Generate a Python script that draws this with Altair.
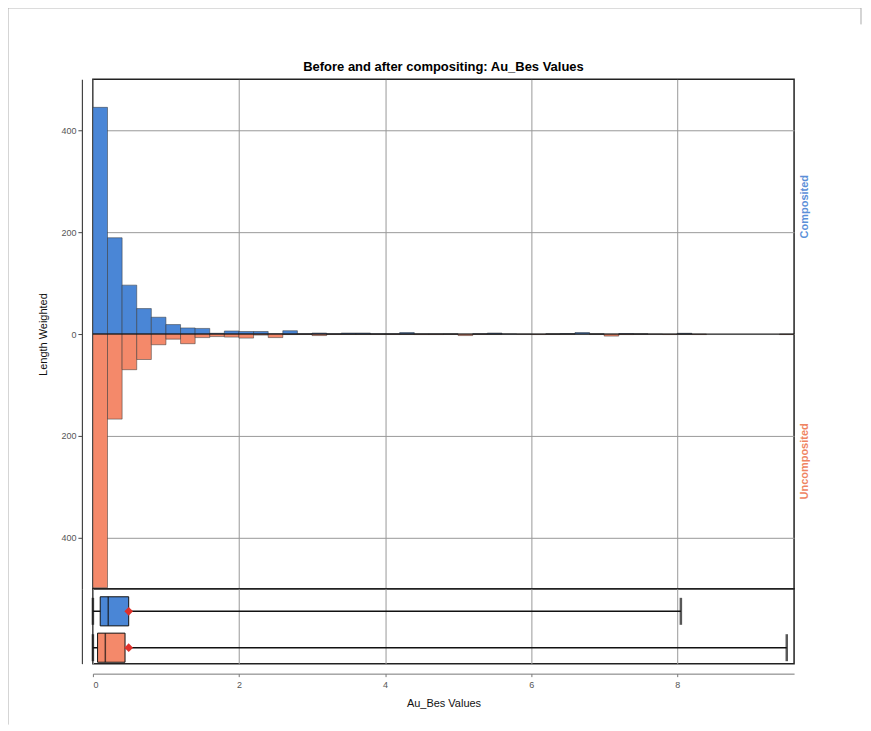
import altair as alt
import pandas as pd

# ---------------- data ----------------
bin_step = 0.2
n_bins = 48
composited = [445, 189, 96, 50, 33, 18.6, 12, 11, 1.5, 6, 5, 5, 0.5, 6.5, 0.5, 2,
              0.5, 2, 2, 0.5, 0.5, 3, 0.3, 0.3, 0.3, 0, 0.5, 2, 0.3, 0, 0, 0.3,
              1, 3, 0.3, 0, 1, 0.3, 0, 0, 1.5, 0, 0, 0, 0, 0, 0, 0]
uncomposited = [498, 167, 70, 50, 21, 10, 19, 7, 5, 6, 8, 2, 7, 1, 0.5, 3,
                0.5, 0.5, 0.5, 0.5, 0.5, 0.5, 1, 1, 0.5, 3, 0.5, 0.3, 0, 0.3, 1, 0.3,
                0.3, 0, 0.3, 4, 1, 0.3, 0.3, 1, 0.3, 1, 0, 0, 0, 0, 0, 1]

series_names = ["Composited", "Uncomposited"]
series_colors = ["#4a86d6", "#f4896a"]
label_colors = ["#5b8fd8", "#ef8462"]

box_min = [0.0, 0.0]
box_q1 = [0.10, 0.064]
box_median = [0.21, 0.17]
box_q3 = [0.49, 0.44]
box_max = [8.05, 9.5]
box_mean = [0.49, 0.49]

x_ticks = [0, 2, 4, 6, 8]
y_ticks = [-400, -200, 0, 200, 400]
title_text = "Before and after compositing: Au_Bes Values"

# ---------------- tables ----------------
rows = []
for i in range(n_bins):
    s = round(i * bin_step, 2)
    e = round((i + 1) * bin_step, 2)
    if composited[i] > 0:
        rows.append({"start": s, "end": e, "value": composited[i], "series": "Composited"})
    if uncomposited[i] > 0:
        rows.append({"start": s, "end": e, "value": -uncomposited[i], "series": "Uncomposited"})
hist_df = pd.DataFrame(rows)

box_df = pd.DataFrame({
    "series": series_names, "min": box_min, "q1": box_q1, "median": box_median,
    "q3": box_q3, "max": box_max, "mean": box_mean,
})

W, H_HIST, H_BOX = 702, 510, 75
FONT = "Liberation Sans"

xscale = alt.Scale(domain=[0, 9.6], nice=False, zero=False)
yscale = alt.Scale(domain=[-500, 500], nice=False)
cscale = alt.Scale(domain=series_names, range=series_colors)

hist_x_axis = alt.Axis(values=x_ticks, labels=False, ticks=False, domain=False, title=None,
                       grid=True, gridColor="#999999", gridWidth=1)
hist_y_axis = alt.Axis(values=y_ticks, labelExpr="format(abs(datum.value), 'd')", offset=11,
                       grid=True, gridColor="#999999", gridWidth=1, tickSize=4, tickColor="#444",
                       domainColor="#444", domainWidth=1.2, labelFontSize=9, labelColor="#555",
                       labelFont=FONT, title="Length Weighted", titleFont=FONT, titleFontSize=11,
                       titleFontWeight="normal", titleColor="#111", titlePadding=12)

bars = alt.Chart(hist_df).mark_bar(stroke="#333333", strokeWidth=0.6, strokeOpacity=0.85, clip=True).encode(
    x=alt.X("start:Q", scale=xscale, axis=hist_x_axis),
    x2="end:Q",
    y=alt.Y("value:Q", scale=yscale, axis=hist_y_axis),
    y2=alt.datum(0),
    color=alt.Color("series:N", scale=cscale, legend=None),
)

zero_rule = alt.Chart(pd.DataFrame({"v": [0]})).mark_rule(color="#111", strokeWidth=1).encode(
    y=alt.Y("v:Q", scale=yscale)
)

lab_comp = alt.Chart(pd.DataFrame({"t": ["Composited"]})).mark_text(
    angle=270, align="center", baseline="middle", font=FONT, fontSize=11,
    fontWeight="bold", color=label_colors[0]
).encode(x=alt.value(W + 11), y=alt.datum(250), text="t:N")

lab_unc = alt.Chart(pd.DataFrame({"t": ["Uncomposited"]})).mark_text(
    angle=270, align="center", baseline="middle", font=FONT, fontSize=11,
    fontWeight="bold", color=label_colors[1]
).encode(x=alt.value(W + 11), y=alt.datum(-250), text="t:N")

title_mark = alt.Chart(pd.DataFrame({"t": [title_text]})).mark_text(
    align="center", baseline="alphabetic", font=FONT, fontSize=13, fontWeight="bold", color="#000"
).encode(x=alt.value(W / 2), y=alt.value(-8), text="t:N")

one = pd.DataFrame({"a": [0]})
frame_top = alt.Chart(one).mark_rule(color="#aaaaaa", strokeWidth=1).encode(
    x=alt.value(-85), x2=alt.value(769), y=alt.value(-71.5))
frame_left = alt.Chart(one).mark_rule(color="#aaaaaa", strokeWidth=1).encode(
    x=alt.value(-85), y=alt.value(-71.5), y2=alt.value(646))
frame_right = alt.Chart(one).mark_rule(color="#aaaaaa", strokeWidth=1).encode(
    x=alt.value(769), y=alt.value(-71.5), y2=alt.value(-55))

hist = alt.layer(bars, zero_rule, lab_comp, lab_unc, title_mark,
                 frame_top, frame_left, frame_right).properties(width=W, height=H_HIST)

# ---------------- box panel ----------------
yband = alt.Scale(domain=series_names, paddingInner=0.2, paddingOuter=0.13, align=0.85)
box_y_axis = alt.Axis(title=None, labels=False, ticks=False, grid=False, offset=11,
                      domainColor="#444", domainWidth=1.2)
box_x_axis = alt.Axis(values=x_ticks, format="d", offset=10, grid=True, gridColor="#999999",
                      gridWidth=1, tickSize=3, tickColor="#777", domainColor="#777", labelFontSize=9,
                      labelColor="#555", labelFont=FONT, labelPadding=4, title="Au_Bes Values",
                      titleFont=FONT, titleFontSize=11, titleFontWeight="normal", titleColor="#111",
                      titlePadding=8)

base = alt.Chart(box_df)
whisk = base.mark_rule(color="#111", strokeWidth=1.4).encode(
    x=alt.X("min:Q", scale=xscale, axis=box_x_axis), x2="max:Q",
    y=alt.Y("series:N", scale=yband, axis=box_y_axis, sort=series_names))
boxes = base.mark_bar(stroke="#111", strokeWidth=1).encode(
    x=alt.X("q1:Q", scale=xscale), x2="q3:Q",
    y=alt.Y("series:N", scale=yband, sort=series_names),
    color=alt.Color("series:N", scale=cscale, legend=None))
cap_hi = base.mark_tick(orient="vertical", color="#111", thickness=2.5, size=27).encode(
    x=alt.X("max:Q", scale=xscale), y=alt.Y("series:N", scale=yband, sort=series_names))
cap_lo = base.mark_tick(orient="vertical", color="#111", thickness=2.5, size=27).encode(
    x=alt.X("min:Q", scale=xscale), y=alt.Y("series:N", scale=yband, sort=series_names))
med = base.mark_tick(orient="vertical", color="#111", thickness=1.5, size=29).encode(
    x=alt.X("median:Q", scale=xscale), y=alt.Y("series:N", scale=yband, sort=series_names))
mean = base.mark_point(shape="diamond", filled=True, color="#e0302a", size=75, opacity=1).encode(
    x=alt.X("mean:Q", scale=xscale), y=alt.Y("series:N", scale=yband, sort=series_names))

boxp = alt.layer(whisk, boxes, cap_hi, cap_lo, med, mean).properties(width=W, height=H_BOX)

chart = alt.vconcat(hist, boxp, spacing=0, bounds="flush").configure_view(
    stroke="#222", strokeWidth=1.5
).properties(padding={"left": -2, "top": -2, "right": 0, "bottom": 0})

chart.save("out.html", embed_options={"renderer": "svg", "actions": False})
